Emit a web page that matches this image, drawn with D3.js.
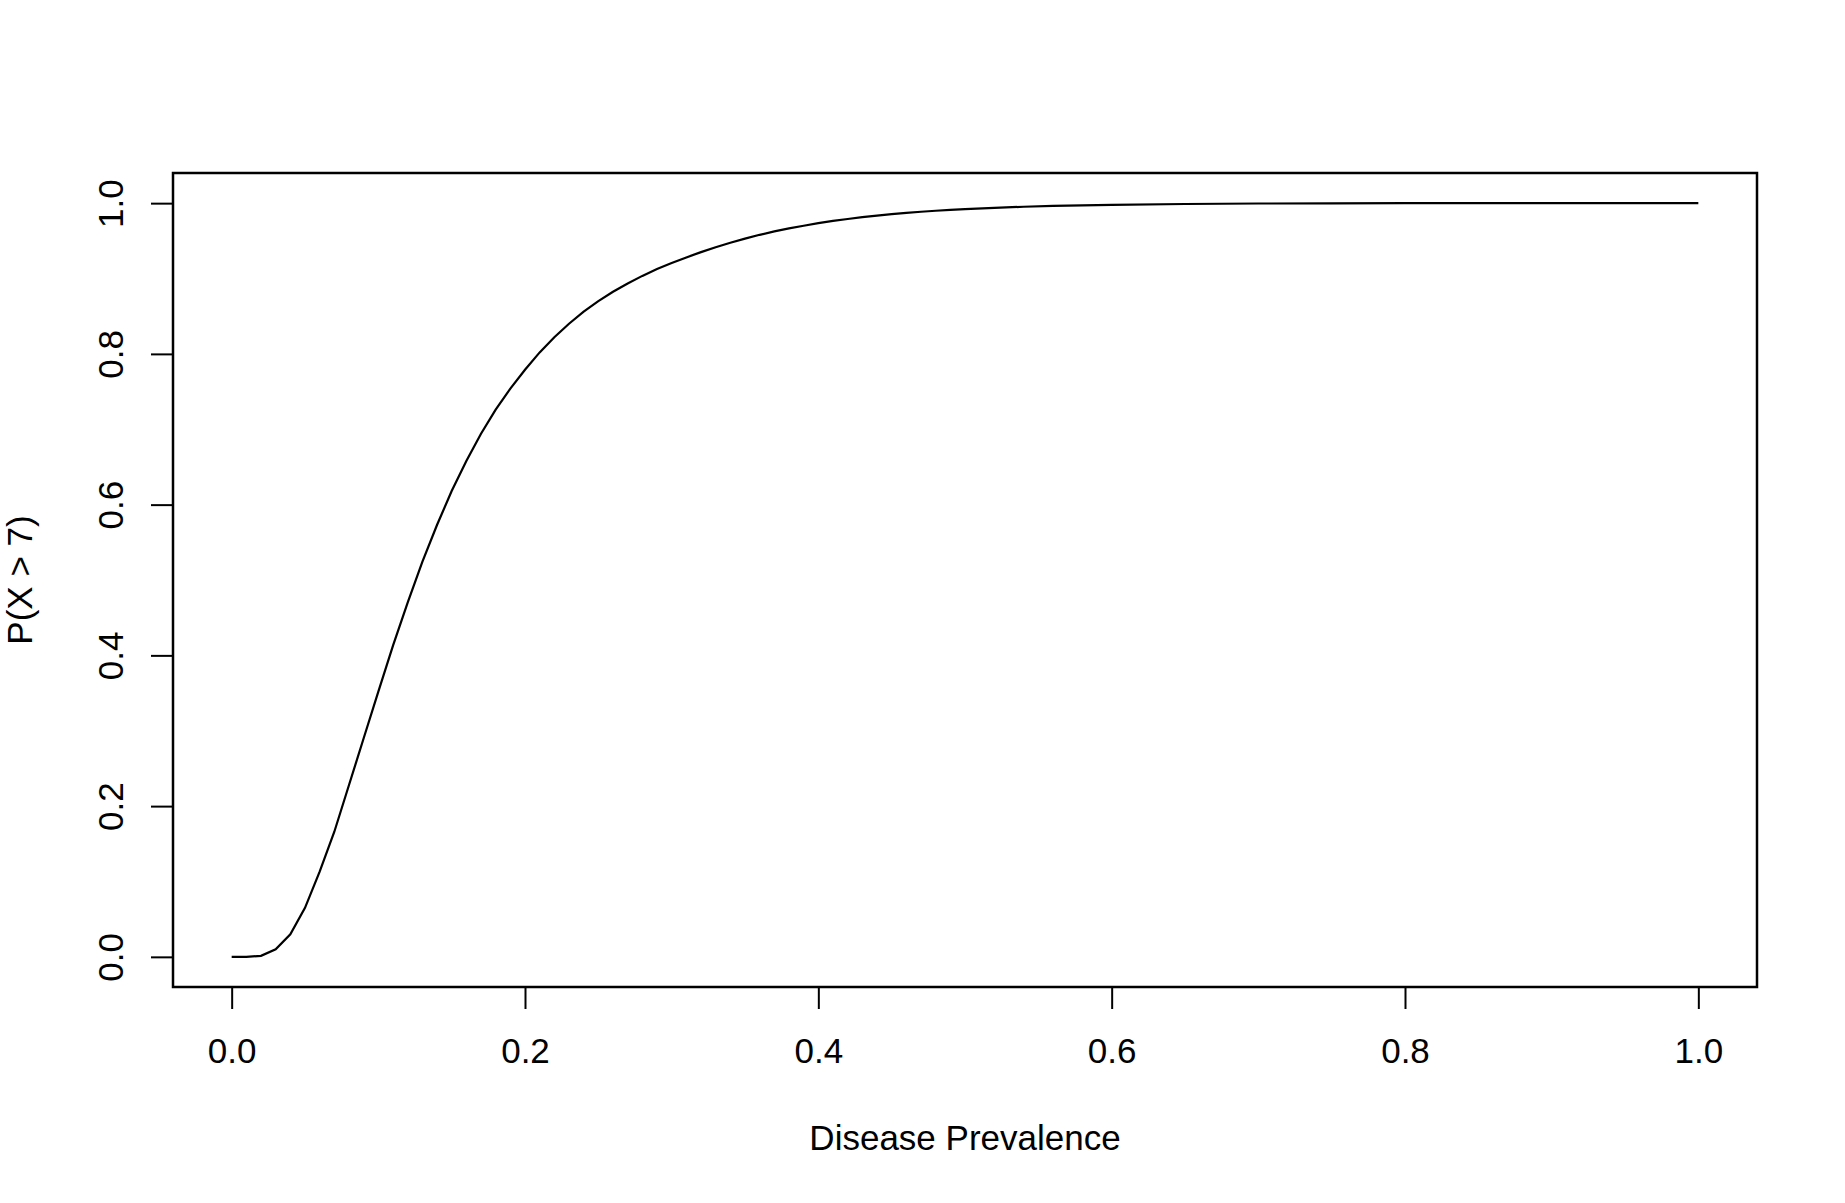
<!DOCTYPE html>
<html>
<head>
<meta charset="utf-8">
<script src="https://cdn.jsdelivr.net/npm/d3@7"></script>
<style>
  html, body { margin: 0; padding: 0; background: #fff; }
  svg { display: block; font-family: "Liberation Sans", Arial, Helvetica, sans-serif; }
</style>
</head>
<body>
<div id="chart"></div>
<script>
// prevalence values (x) and P(X > 7)
const prevalence = [
  0.00, 0.01, 0.02, 0.03, 0.04, 0.05, 0.06, 0.07, 0.08, 0.09,
  0.10, 0.11, 0.12, 0.13, 0.14, 0.15, 0.16, 0.17, 0.18, 0.19,
  0.20, 0.21, 0.22, 0.23, 0.24, 0.25, 0.26, 0.27, 0.28, 0.29,
  0.30, 0.31, 0.32, 0.33, 0.34, 0.35, 0.36, 0.37, 0.38, 0.39,
  0.40, 0.41, 0.42, 0.43, 0.44, 0.45, 0.46, 0.47, 0.48, 0.49,
  0.50, 0.52, 0.54, 0.56, 0.58, 0.60, 0.65, 0.70, 0.75, 0.80,
  0.85, 0.90, 0.95, 1.00
];
const probability = [
  0.000, 0.000, 0.0014, 0.010, 0.030, 0.065, 0.113, 0.166, 0.228, 0.290,
  0.352, 0.413, 0.470, 0.524, 0.573, 0.618, 0.658, 0.694, 0.726, 0.754,
  0.779, 0.802, 0.822, 0.840, 0.856, 0.870, 0.8825, 0.8935, 0.9035, 0.9125,
  0.9205, 0.928, 0.935, 0.9415, 0.9475, 0.953, 0.958, 0.9625, 0.9665, 0.970,
  0.9734, 0.9764, 0.979, 0.9814, 0.9835, 0.9854, 0.9871, 0.9886, 0.9899, 0.9911,
  0.9921, 0.9938, 0.9952, 0.9963, 0.9971, 0.9978, 0.9989, 0.9995, 0.9998, 0.9999,
  1.000, 1.000, 1.000, 1.000
];
const xTicks = [0, 0.2, 0.4, 0.6, 0.8, 1.0];
const yTicks = [0, 0.2, 0.4, 0.6, 0.8, 1.0];
const xTitle = "Disease Prevalence";
const yTitle = "P(X > 7)";

const width = 1845, height = 1203;
const box = { left: 173, right: 1757, top: 173, bottom: 987 };
const fontSize = 35;

const svg = d3.select("#chart").append("svg")
  .attr("width", width)
  .attr("height", height);

// R style: 4% padding on each side of the data range
const x = d3.scaleLinear().domain([-0.04, 1.04]).range([box.left, box.right]);
const y = d3.scaleLinear().domain([-0.04, 1.04]).range([box.bottom, box.top]);

const data = prevalence.map((p, i) => ({ p: p, v: probability[i] }));

// curve
svg.append("path")
  .datum(data)
  .attr("fill", "none")
  .attr("stroke", "#000")
  .attr("stroke-width", 2.2)
  .attr("d", d3.line().x(d => x(d.p)).y(d => y(d.v)));

// x axis
const xAxis = svg.append("g")
  .attr("transform", `translate(0,${box.bottom})`)
  .call(d3.axisBottom(x).tickValues(xTicks).tickFormat(d3.format(".1f"))
    .tickSize(22).tickPadding(29).tickSizeOuter(0));
xAxis.select(".domain").remove();
xAxis.selectAll("line").attr("stroke-width", 2);
xAxis.selectAll("text")
  .attr("font-family", "Liberation Sans, Arial, sans-serif")
  .attr("font-size", fontSize)
  .attr("fill", "#000");

// y axis
const yAxis = svg.append("g")
  .attr("transform", `translate(${box.left},0)`)
  .call(d3.axisLeft(y).tickValues(yTicks).tickFormat(d3.format(".1f"))
    .tickSize(22).tickSizeOuter(0));
yAxis.select(".domain").remove();
yAxis.selectAll("line").attr("stroke-width", 2);
yAxis.selectAll("text")
  .attr("x", null)
  .attr("dy", null)
  .attr("transform", "translate(-63,0) rotate(-90)")
  .attr("text-anchor", "middle")
  .attr("dominant-baseline", "central")
  .attr("font-family", "Liberation Sans, Arial, sans-serif")
  .attr("font-size", fontSize)
  .attr("fill", "#000");

// box
svg.append("rect")
  .attr("x", box.left)
  .attr("y", box.top)
  .attr("width", box.right - box.left)
  .attr("height", box.bottom - box.top)
  .attr("fill", "none")
  .attr("stroke", "#000")
  .attr("stroke-width", 2.5);

// titles
svg.append("text")
  .attr("x", (box.left + box.right) / 2)
  .attr("y", 1137)
  .attr("text-anchor", "middle")
  .attr("dominant-baseline", "central")
  .attr("font-size", fontSize)
  .text(xTitle);

svg.append("text")
  .attr("transform", `translate(19,${(box.top + box.bottom) / 2}) rotate(-90)`)
  .attr("text-anchor", "middle")
  .attr("dominant-baseline", "central")
  .attr("font-size", fontSize)
  .text(yTitle);
</script>
</body>
</html>
